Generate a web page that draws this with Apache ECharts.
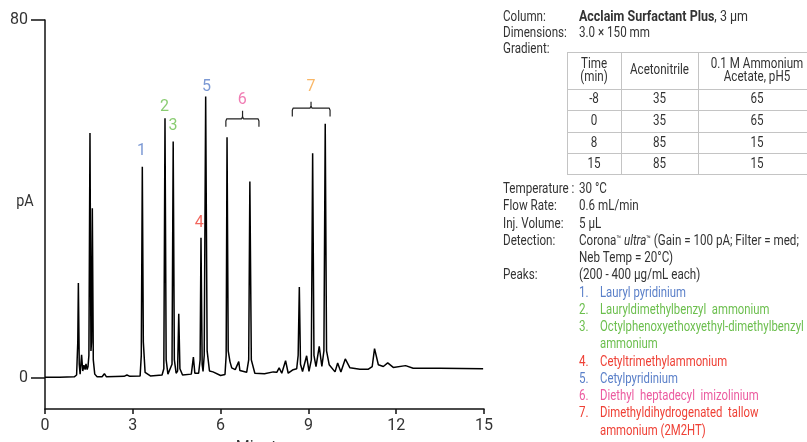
<!DOCTYPE html>
<html>
<head>
<meta charset="utf-8">
<script src="https://cdn.jsdelivr.net/npm/echarts@6/dist/echarts.min.js"></script>
<style>
html,body{margin:0;padding:0;background:#fff;}
#c{width:807px;height:442px;}
</style>
</head>
<body>
<div id="c"></div>
<script>
// ---- chromatogram trace: [minutes, pA] ----
var trace = [
[0,0.1],[0.5,0.1],[1.0,0.2],[1.08,0.6],[1.12,8],[1.14,21.2],[1.17,3],[1.2,0.8],[1.25,5.1],[1.29,1.5],
[1.33,2.8],[1.37,1.8],[1.40,3.1],[1.44,1.8],[1.47,2.5],[1.50,5],[1.537,54.7],[1.57,6],[1.59,8],[1.617,37.9],
[1.65,4],[1.70,0.8],[1.78,0.2],[1.95,0.2],[2.03,0.9],[2.1,0.2],[2.7,0.3],[2.8,0.6],[2.9,0.3],[3.25,0.4],
[3.29,5],[3.325,47.2],[3.36,8],[3.42,1.2],[3.6,0.4],[4.0,0.6],[4.06,2],[4.10,58],[4.14,4],[4.2,0.8],
[4.25,0.6],[4.34,3],[4.38,52.8],[4.42,4],[4.48,1],[4.53,1.5],[4.57,14.3],[4.61,2],[4.7,0.6],[5.0,0.8],
[5.07,4.6],[5.12,1.0],[5.25,1.0],[5.30,4],[5.33,31.3],[5.37,3],[5.40,1.4],[5.44,5],[5.49,62.9],[5.54,6],
[5.62,1.5],[5.74,1.3],[5.8,0.9],[6.0,0.5],[6.15,0.7],[6.19,5],[6.22,53.8],[6.26,6],[6.32,3.6],[6.38,2.2],
[6.43,2.5],[6.5,1.8],[6.55,1.7],[6.62,3.6],[6.66,1.6],[6.89,1.2],[6.96,4],[7.00,43.9],[7.05,4],[7.17,1.0],
[7.5,0.9],[7.8,1.3],[7.92,1.2],[8.0,2.2],[8.09,1.0],[8.22,3.8],[8.31,1.0],[8.48,1.8],[8.6,2],[8.65,5],
[8.69,20.3],[8.73,3],[8.80,1.4],[8.94,4.9],[9.02,1.4],[9.1,4],[9.145,50.2],[9.19,5],[9.26,2.5],[9.37,7.0],
[9.46,2.5],[9.53,6],[9.575,56.8],[9.62,6],[9.71,2.9],[9.91,1.3],[10.0,3.3],[10.11,1.3],[10.26,4.2],[10.42,2.2],
[10.76,1.9],[11.05,1.9],[11.18,2.5],[11.26,6.5],[11.39,2.9],[11.56,2.5],[11.71,3.3],[11.9,2.3],[12.32,2.7],[12.58,2.1],
[13.5,2.1],[14.97,2.0]
];

// ---- peak number labels ----
var peakLabels = ['1','2','3','4','5','6','7'];
var peakLabelTime = [3.30, 4.08, 4.37, 5.27, 5.52, 6.74, 9.09];
var peakLabelPA = [50.7, 60.6, 56.4, 34.6, 65.0, 62.1, 65.0];
var peakLabelColors = ['#5b80c9','#6cbf4e','#6cbf4e','#ef4136','#5b80c9','#ec5ba0','#f7a541'];

// ---- brackets over peak groups 6 and 7 ----
var bracketLeft = [6.18, 8.45];
var bracketRight = [7.31, 9.74];
var bracketCenter = [6.75, 9.09];
var bracketLevel = [57.9, 60.3];
var bracketEnd = [56.1, 58.4];
var bracketTop = [59.7, 61.7];

// ---- axes ----
var xTicks = [0, 3, 6, 9, 12, 15];
var yTicks = [0, 80];

// ---- gradient table ----
var gradHeaders = ['Time\n(min)', 'Acetonitrile', '0.1 M Ammonium\nAcetate, pH5'];
var gradTime = ['-8', '0', '8', '15'];
var gradAcetonitrile = ['35', '35', '85', '85'];
var gradAmmonium = ['65', '65', '15', '15'];

// ---- conditions ----
var condLabels = ['Temperature :', 'Flow Rate:', 'Inj. Volume:', 'Detection:', '', 'Peaks:'];
var condValues = ['30 °C', '0.6 mL/min', '5 µL', 'Corona{s|™} {i|ultra}{s|™} (Gain = 100 pA; Filter = med;', 'Neb Temp = 20°C)', '(200 - 400 µg/mL each)'];
var peakNames = [
  ['1.', 'Lauryl pyridinium'],
  ['2.', 'Lauryldimethylbenzyl  ammonium'],
  ['3.', 'Octylphenoxyethoxyethyl-dimethylbenzyl'],
  ['', 'ammonium'],
  ['4.', 'Cetyltrimethylammonium'],
  ['5.', 'Cetylpyridinium'],
  ['6.', 'Diethyl  heptadecyl  imizolinium'],
  ['7.', 'Dimethyldihydrogenated  tallow'],
  ['', 'ammonium (2M2HT)']
];
var peakNameColors = ['#5b80c9','#6cbf4e','#6cbf4e','#6cbf4e','#ef4136','#5b80c9','#ec5ba0','#ef4136','#ef4136'];

var FONT = "Roboto, 'Liberation Sans', sans-serif";
var TXT = '#333333';
var SX = 0.83;

var chart = echarts.init(document.getElementById('c'), null, {renderer: 'canvas'});

// brackets polylines
var bracketSeries = bracketLeft.map(function (l, i) {
  var r = bracketRight[i], c = bracketCenter[i], lv = bracketLevel[i], e = bracketEnd[i], tp = bracketTop[i];
  var d = 0.03, dv = 0.5;
  return {
    type: 'line', silent: true, symbol: 'none', animation: false,
    lineStyle: {color: '#222', width: 1.2},
    data: [[l, e], [l, lv - dv], [l + d, lv], [c - d, lv], [c, lv + dv], [c, tp], [c, lv + dv], [c + d, lv], [r - d, lv], [r, lv - dv], [r, e]]
  };
});

var labelData = peakLabels.map(function (n, i) {
  return {value: [peakLabelTime[i], peakLabelPA[i]], name: n, label: {color: peakLabelColors[i]}};
});

var richBase = {
  b: {fontWeight: 'bold', fontSize: 14, fontFamily: FONT, fill: TXT},
  i: {fontStyle: 'italic', fontSize: 14, fontFamily: FONT, fill: TXT},
  s: {fontSize: 9, fontFamily: FONT, fill: TXT, verticalAlign: 'top', padding: [1, 0, 0, 0]}
};

// graphic elements for the right panel
var g = [];
function txt(x, y, text, opt, sx) {
  var s = {text: text, x: 0, y: 0, font: '14px ' + FONT, fill: TXT, textAlign: 'left', textVerticalAlign: 'middle', rich: richBase};
  if (opt) for (var k in opt) s[k] = opt[k];
  g.push({type: 'text', silent: true, x: x, y: y, scaleX: sx == null ? SX : sx, style: s});
}
var LX = 503, VX = 579;
txt(LX, 17, 'Column:');
txt(VX, 17, '{b|Acclaim Surfactant Plus}, 3 µm', null, 0.89);
txt(LX, 33, 'Dimensions:');
txt(VX, 33, '3.0 × 150 mm');
txt(LX, 49, 'Gradient:');

// table
var colX = [567, 621, 698, 830];
var rowY = [52, 88.5, 110, 132, 153, 174];
rowY.forEach(function (y) {
  g.push({type: 'line', silent: true, shape: {x1: colX[0], y1: Math.round(y) + 0.5, x2: colX[3], y2: Math.round(y) + 0.5}, style: {stroke: '#c4c4c4', lineWidth: 1}});
});
colX.slice(0, 3).forEach(function (x) {
  g.push({type: 'line', silent: true, shape: {x1: x + 0.5, y1: rowY[0], x2: x + 0.5, y2: Math.round(rowY[5]) + 1}, style: {stroke: '#c4c4c4', lineWidth: 1}});
});
var colC = [594, 659.5, 757];
gradHeaders.forEach(function (h, j) {
  txt(colC[j], (rowY[0] + rowY[1]) / 2 + 0.5, h, {textAlign: 'center', lineHeight: 13});
});
var cols = [gradTime, gradAcetonitrile, gradAmmonium];
for (var r = 0; r < gradTime.length; r++) {
  for (var j = 0; j < 3; j++) {
    txt(colC[j], (rowY[r + 1] + rowY[r + 2]) / 2 + 0.5, cols[j][r], {textAlign: 'center'});
  }
}

var lineH = 17.25;
var y0 = 189.5;
condLabels.forEach(function (l, i) {
  var y = y0 + i * lineH;
  if (l) txt(LX, y, l);
  txt(VX, y, condValues[i]);
});
peakNames.forEach(function (p, i) {
  var y = y0 + (condLabels.length + i) * lineH;
  if (p[0]) txt(VX, y, p[0], {fill: peakNameColors[i]});
  txt(600, y, p[1], {fill: peakNameColors[i]}, 0.81);
});

// pA label
txt(25, 202, 'pA', {textAlign: 'center', font: '16px ' + FONT}, 0.9);

var option = {
  animation: false,
  backgroundColor: '#fff',
  grid: {left: 45, right: 323, top: 20, bottom: 33, containLabel: false, outerBoundsMode: 'none'},
  xAxis: {
    type: 'value', min: 0, max: 15, interval: 3,
    axisLine: {onZero: false, lineStyle: {color: '#111', width: 1.5}},
    axisTick: {show: true, length: 5, lineStyle: {color: '#111', width: 1.5}},
    axisLabel: {margin: 9, fontSize: 16, fontFamily: FONT, color: TXT, customValues: xTicks},
    splitLine: {show: false},
    name: 'Minutes', nameLocation: 'middle', nameGap: 31,
    nameTextStyle: {fontSize: 16, fontFamily: FONT, color: TXT}
  },
  yAxis: {
    type: 'value', min: -7, max: 80,
    axisLine: {show: true, onZero: false, lineStyle: {color: '#111', width: 1.5}},
    axisTick: {show: true, length: 14, customValues: yTicks, lineStyle: {color: '#111', width: 1.5}},
    axisLabel: {margin: 17, fontSize: 16, fontFamily: FONT, color: TXT, customValues: yTicks},
    splitLine: {show: false}
  },
  series: [
    {
      type: 'line', data: trace, symbol: 'none', silent: true,
      lineStyle: {color: '#000', width: 1.5}
    },
    {
      type: 'scatter', data: labelData, symbolSize: 0, silent: true,
      label: {show: true, position: 'inside', formatter: '{b}', fontSize: 16, fontFamily: FONT}
    }
  ].concat(bracketSeries),
  graphic: g
};
chart.setOption(option);
</script>
</body>
</html>
